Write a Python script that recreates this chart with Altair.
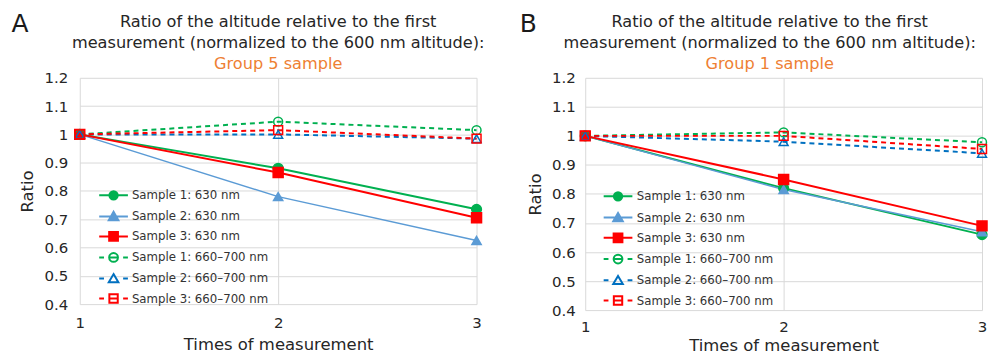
import altair as alt
import pandas as pd

# ---------------- data ----------------
series = ["Sample 1: 630 nm", "Sample 2: 630 nm", "Sample 3: 630 nm",
          "Sample 1: 660–700 nm", "Sample 2: 660–700 nm", "Sample 3: 660–700 nm"]
times = [1, 2, 3]

group5_s1_630 = [1.0, 0.880, 0.735]
group5_s2_630 = [1.0, 0.780, 0.625]
group5_s3_630 = [1.0, 0.865, 0.705]
group5_s1_660 = [1.0, 1.045, 1.015]
group5_s2_660 = [1.0, 1.000, 0.985]
group5_s3_660 = [1.0, 1.015, 0.985]

group1_s1_630 = [1.0, 0.820, 0.660]
group1_s2_630 = [1.0, 0.815, 0.670]
group1_s3_630 = [1.0, 0.850, 0.690]
group1_s1_660 = [1.0, 1.012, 0.978]
group1_s2_660 = [1.0, 0.980, 0.940]
group1_s3_660 = [1.0, 1.000, 0.955]

y_ticks = [0.4, 0.5, 0.6, 0.7, 0.8, 0.9, 1.0, 1.1, 1.2]

colors = ["#00B050", "#5B9BD5", "#FF0000", "#00B050", "#0070C0", "#FF0000"]
marker_shapes = ["circle", "triangle-up", "square", "circle", "triangle-up", "square"]
marker_fills = ["#00B050", "#5B9BD5", "#FF0000", "transparent", "transparent", "transparent"]
marker_sizes = [95, 85, 100, 80, 80, 80]
line_widths = [2, 1.5, 2, 2, 2, 2]
is_dashed = [False, False, False, True, True, True]

# legend symbols: line segment + marker (custom SVG paths, unit = sqrt(size)/2)
solid_seg = "M-3.6,0H3.6"
dash_seg = "M-3.6,0H-2.4M2.4,0H3.6"
p_circle = "M-1.05,0A1.05,1.05 0 1,1 1.05,0A1.05,1.05 0 1,1 -1.05,0Z"
p_tri = "M0,-1.15L1.2,0.95L-1.2,0.95Z"
p_square = "M-1.1,-1.1H1.1V1.1H-1.1Z"
h_circle = "M-1.1,0A1.1,1.1 0 1,1 1.1,0A1.1,1.1 0 1,1 -1.1,0ZM-1.1,0H1.1"
h_tri = "M0,-1.1L1.2,0.95L-1.2,0.95Z"
h_square = "M-1.05,-1.05H1.05V1.05H-1.05ZM-1.05,0H1.05"
legend_paths = [solid_seg + p_circle, solid_seg + p_tri, solid_seg + p_square,
                dash_seg + h_circle, dash_seg + h_tri, dash_seg + h_square]

panels = {
    "A": [group5_s1_630, group5_s2_630, group5_s3_630, group5_s1_660, group5_s2_660, group5_s3_660],
    "B": [group1_s1_630, group1_s2_630, group1_s3_630, group1_s1_660, group1_s2_660, group1_s3_660],
}

FONT = "DejaVu Sans"
TXT = "#262626"
LEG_FONT_SIZE = 11.8


def make_df(vals):
    rows = []
    for i, s in enumerate(series):
        for t, v in zip(times, vals[i]):
            rows.append({
                "Series": s, "Time": t, "Ratio": v, "order": i,
                "col": colors[i], "shp": marker_shapes[i], "fil": marker_fills[i],
                "sz": marker_sizes[i], "lw": line_widths[i], "dashed": is_dashed[i],
            })
    return pd.DataFrame(rows)


def make_panel(letter, subtitle, height, lx, ly, label_off, row_pad, letter_x,
               ytitle_pad, ylabel_pad, xlabel_pad, xtitle_pad, title_dx):
    df = make_df(panels[letter])
    x = alt.X("Time:O", scale=alt.Scale(type="point", padding=0, domain=times),
              axis=alt.Axis(title="Times of measurement", labelAngle=0,
                            labelFontSize=15, titleFontSize=16.5, labelPadding=xlabel_pad,
                            titlePadding=xtitle_pad, titleFontWeight="normal",
                            labelColor=TXT, titleColor=TXT, labelFont=FONT, titleFont=FONT,
                            labelOverlap=False,
                            domain=False, ticks=False, grid=True, gridColor="#d9d9d9"))
    y = alt.Y("Ratio:Q", scale=alt.Scale(domain=[0.4, 1.2], nice=False, zero=False),
              axis=alt.Axis(values=y_ticks, format="~g", title="Ratio",
                            labelFontSize=15, titleFontSize=16.5, labelPadding=ylabel_pad,
                            titlePadding=ytitle_pad, titleFontWeight="normal",
                            labelColor=TXT, titleColor=TXT, labelFont=FONT, titleFont=FONT,
                            labelOverlap=False,
                            domain=False, ticks=False, grid=True, gridColor="#d9d9d9"))
    base = alt.Chart(df).encode(x=x, y=y)

    dashed_lines = base.transform_filter("datum.dashed").mark_line(strokeDash=[5, 4]).encode(
        color=alt.Color("col:N", scale=None),
        strokeWidth=alt.StrokeWidth("lw:Q", scale=None),
        detail="Series:N",
    )
    solid_lines = base.transform_filter("!datum.dashed").mark_line().encode(
        color=alt.Color("col:N", scale=None),
        strokeWidth=alt.StrokeWidth("lw:Q", scale=None),
        detail="Series:N",
    )
    points = base.mark_point(strokeWidth=1.5, opacity=1).encode(
        stroke=alt.Stroke("col:N", scale=None),
        fill=alt.Fill("fil:N", scale=None),
        shape=alt.Shape("shp:N", scale=None),
        size=alt.Size("sz:Q", scale=None),
    )

    leg = alt.Legend(orient="none", legendX=lx, legendY=ly, title=None,
                     symbolSize=64, symbolStrokeWidth=2, labelFontSize=LEG_FONT_SIZE,
                     labelFont=FONT, labelColor="#333333", labelOffset=label_off,
                     rowPadding=row_pad, labelLimit=300)
    legend_layer = base.transform_filter("datum.Ratio > 50").mark_point(filled=False).encode(
        stroke=alt.Stroke("Series:N", scale=alt.Scale(domain=series, range=colors), legend=leg),
        fill=alt.Fill("Series:N", scale=alt.Scale(domain=series, range=marker_fills), legend=leg),
        shape=alt.Shape("Series:N", scale=alt.Scale(domain=series, range=legend_paths), legend=leg),
    )

    letter_df = pd.DataFrame({"label": [letter]})
    letter_mark = alt.Chart(letter_df).mark_text(
        fontSize=25, font=FONT, color="#1a1a1a", align="center", baseline="middle"
    ).encode(text="label:N", x=alt.value(letter_x), y=alt.value(-54))

    return alt.layer(dashed_lines, solid_lines, points, legend_layer, letter_mark).properties(
        width=398, height=height,
        title=alt.TitleParams(
            text=["Ratio of the altitude relative to the first",
                  "measurement (normalized to the 600 nm altitude):"],
            subtitle=subtitle, fontSize=16.2, subtitleFontSize=16.2, font=FONT, subtitleFont=FONT,
            fontWeight="normal", color=TXT, subtitleColor="#EE8033", lineHeight=21,
            subtitleLineHeight=21, subtitlePadding=4.8, anchor="middle", frame="group",
            offset=-60, dx=title_dx,
        ),
    )


panel_a = make_panel("A", "Group 5 sample", 227, 28, 112, 12.5, 3.1, -60, 9, 12, 11, 7, 0)
panel_b = make_panel("B", "Group 1 sample", 233, 27, 113, 13, 3.3, -57, 8, 10, 9, 4, -14)

chart = alt.hconcat(panel_a, panel_b, spacing=35).resolve_scale(
    stroke="independent", fill="independent", shape="independent"
).configure(
    padding={"left": 11, "top": 11.5, "right": 0, "bottom": 0},
    background="white",
).configure_view(stroke=None).configure_legend(
    labelFontSize=LEG_FONT_SIZE, labelFont=FONT, labelColor="#333333", symbolSize=64,
    symbolStrokeWidth=2,
)

chart.save("out.html", embed_options={"renderer": "svg", "actions": False})
